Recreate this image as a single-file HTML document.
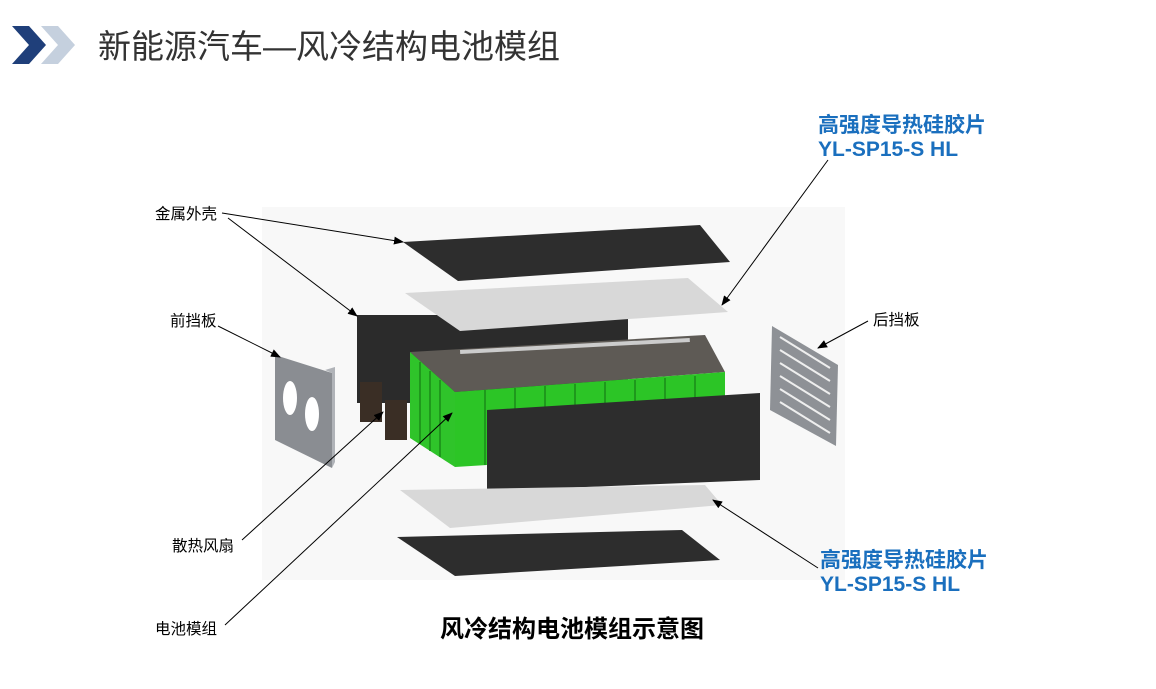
<!DOCTYPE html>
<html><head><meta charset="utf-8"><style>
html,body{margin:0;padding:0;background:#fff;}
svg{display:block;font-family:"Liberation Sans","Noto Sans CJK SC",sans-serif;}
</style></head><body>
<svg width="1156" height="689" viewBox="0 0 1156 689" xmlns="http://www.w3.org/2000/svg">
<defs><marker id="a" markerWidth="10" markerHeight="8" refX="9" refY="4" orient="auto" markerUnits="userSpaceOnUse"><path d="M0,0 L10,4 L0,8 Z" fill="#000"/></marker></defs>
<polygon points="12,26 29,26 46,45 29,64 12,64 29,45" fill="#1f3f7a"/>
<polygon points="41,26 58,26 75,45 58,64 41,64 58,45" fill="#c5d0de"/>
<text x="98" y="58" font-size="33" fill="#333">新能源汽车—风冷结构电池模组</text>
<rect x="262" y="207" width="583" height="373" fill="#f8f8f8"/>
<polygon points="403,242 700,225 730,262 458,281" fill="#2d2d2d"/>
<rect x="357" y="315" width="271" height="88" fill="#2b2b2b"/>
<polygon points="405,293 688,278 728,312 460,331" fill="#d8d8d8"/>
<polygon points="410,352 705,335 725,372 455,392" fill="#5e5a55"/>
<rect x="460" y="350" width="230" height="4" fill="#ccc" transform="rotate(-3 460 350)"/>
<polygon points="410,352 455,392 455,467 410,438" fill="#2fc42a"/>
<polygon points="455,392 725,372 725,450 455,467" fill="#2cc526"/>
<g stroke="#1a8a18" stroke-width="1.5">
<line x1="485" y1="390" x2="485" y2="465"/><line x1="515" y1="388" x2="515" y2="463"/><line x1="545" y1="386" x2="545" y2="461"/><line x1="575" y1="384" x2="575" y2="459"/><line x1="605" y1="382" x2="605" y2="457"/><line x1="635" y1="380" x2="635" y2="455"/><line x1="665" y1="378" x2="665" y2="453"/><line x1="695" y1="376" x2="695" y2="451"/>
<line x1="420" y1="362" x2="420" y2="444"/><line x1="430" y1="371" x2="430" y2="451"/><line x1="440" y1="380" x2="440" y2="457"/>
</g>
<rect x="360" y="382" width="22" height="40" fill="#3a2e25"/>
<rect x="385" y="400" width="22" height="40" fill="#3a2e25"/>
<polygon points="487,410 760,393 760,480 487,491" fill="#2d2d2d"/>
<polygon points="275,355 332,373 332,468 275,440" fill="#8a8d92"/>
<polygon points="325,370 335,367 335,462 332,468 332,373" fill="#b0b3b8"/>
<ellipse cx="290" cy="398" rx="7" ry="17" fill="#fff"/>
<ellipse cx="312" cy="414" rx="7" ry="17" fill="#fff"/>
<polygon points="772,326 838,365 836,446 770,410" fill="#8e9196"/>
<g stroke="#eee" stroke-width="2"><line x1="780" y1="337" x2="830" y2="368"/><line x1="780" y1="350" x2="830" y2="381"/><line x1="780" y1="363" x2="830" y2="394"/><line x1="780" y1="376" x2="830" y2="407"/><line x1="780" y1="389" x2="830" y2="420"/><line x1="780" y1="402" x2="830" y2="433"/></g>
<polygon points="400,490 705,485 722,505 450,528" fill="#d8d8d8"/>
<polygon points="397,537 682,530 720,560 455,576" fill="#2d2d2d"/>
<g stroke="#000" stroke-width="1" fill="none" marker-end="url(#a)">
<line x1="222" y1="213" x2="403" y2="242"/>
<line x1="228" y1="218" x2="357" y2="316"/>
<line x1="218" y1="326" x2="280" y2="357"/>
<line x1="868" y1="321" x2="818" y2="348"/>
<line x1="242" y1="540" x2="383" y2="412"/>
<line x1="225" y1="625" x2="452" y2="413"/>
<line x1="828" y1="160" x2="722" y2="305"/>
<line x1="818" y1="568" x2="713" y2="500"/>
</g>
<g font-size="15.5" fill="#000">
<text x="155" y="219">金属外壳</text>
<text x="170" y="326">前挡板</text>
<text x="873" y="325">后挡板</text>
<text x="172" y="551">散热风扇</text>
<text x="155" y="634">电池模组</text>
</g>
<g font-size="21" font-weight="bold" fill="#1a6fbe">
<text x="818" y="132">高强度导热硅胶片</text>
<text x="818" y="156">YL-SP15-S HL</text>
<text x="820" y="567">高强度导热硅胶片</text>
<text x="820" y="591">YL-SP15-S HL</text>
</g>
<text x="440" y="637" font-size="24" font-weight="bold" fill="#000">风冷结构电池模组示意图</text>
</svg>
</body></html>
